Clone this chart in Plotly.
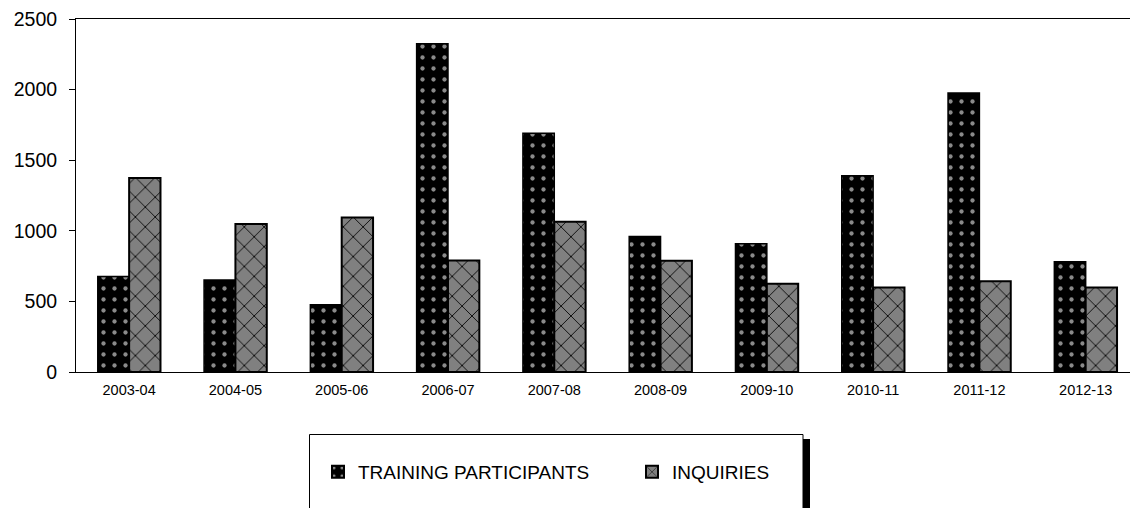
import plotly.graph_objects as go

categories = ["2003-04", "2004-05", "2005-06", "2006-07", "2007-08",
              "2008-09", "2009-10", "2010-11", "2011-12", "2012-13"]
training = [677, 652, 477, 2325, 1690, 960, 909, 1390, 1976, 781]
inquiries = [1374, 1049, 1095, 789, 1064, 788, 625, 599, 642, 599]
y_ticks = [0, 500, 1000, 1500, 2000, 2500]

FONT = "Liberation Sans, Arial, sans-serif"

fig = go.Figure()
fig.add_trace(go.Bar(
    x=categories, y=training, name="TRAINING PARTICIPANTS",
    marker=dict(color="black", line=dict(color="black", width=1.5),
                pattern=dict(shape=".", fgcolor="#8a8a8a", bgcolor="black",
                             size=11, solidity=0.12, fillmode="replace")),
))
fig.add_trace(go.Bar(
    x=categories, y=inquiries, name="INQUIRIES",
    marker=dict(color="#808080", line=dict(color="black", width=2),
                pattern=dict(shape="x", fgcolor="black", bgcolor="#808080",
                             size=14, solidity=0.12, fillmode="replace")),
))

W, H = 1130, 508
L, T, B = 76, 19, 136
pw = W - L
ph = H - T - B

def px_x(p):
    return (p - L) / pw

def px_y(p):
    return (H - B - p) / ph

fig.update_layout(
    width=W, height=H,
    margin=dict(l=L, r=0, t=T, b=B, pad=0),
    paper_bgcolor="white", plot_bgcolor="white",
    barmode="group", bargap=0.41, bargroupgap=0,
    font=dict(family=FONT, color="black"),
    showlegend=True,
    legend=dict(orientation="h", x=px_x(318), xanchor="left",
                y=px_y(472), yanchor="middle",
                font=dict(size=19, family=FONT, color="black"),
                bgcolor="rgba(0,0,0,0)", borderwidth=0,
                entrywidth=269, entrywidthmode="pixels",
                itemsizing="constant"),
    xaxis=dict(type="category", range=[-0.5, 9.417],
               showline=True, linecolor="black", linewidth=1,
               mirror=True, ticks="", showgrid=False,
               ticklabelstandoff=5,
               tickfont=dict(size=14.5, family=FONT, color="black")),
    yaxis=dict(range=[0, 2500], tickvals=y_ticks,
               showline=True, linecolor="black", linewidth=1,
               ticks="outside", ticklen=6, tickcolor="black",
               showgrid=False, zeroline=False,
               ticklabelstandoff=8,
               tickfont=dict(size=19.5, family=FONT, color="black")),
    shapes=[
        dict(type="rect", xref="paper", yref="paper",
             x0=px_x(803), x1=px_x(810), y0=px_y(439), y1=px_y(530),
             fillcolor="black", line=dict(width=0), layer="below"),
        dict(type="rect", xref="paper", yref="paper",
             x0=px_x(309.5), x1=px_x(803), y0=px_y(434.5), y1=px_y(530),
             fillcolor="white", line=dict(color="black", width=1), layer="below"),
    ],
)

fig.write_html("out.html", config={"displayModeBar": False},
               post_script="document.body.style.margin='0';document.body.style.padding='0';")
